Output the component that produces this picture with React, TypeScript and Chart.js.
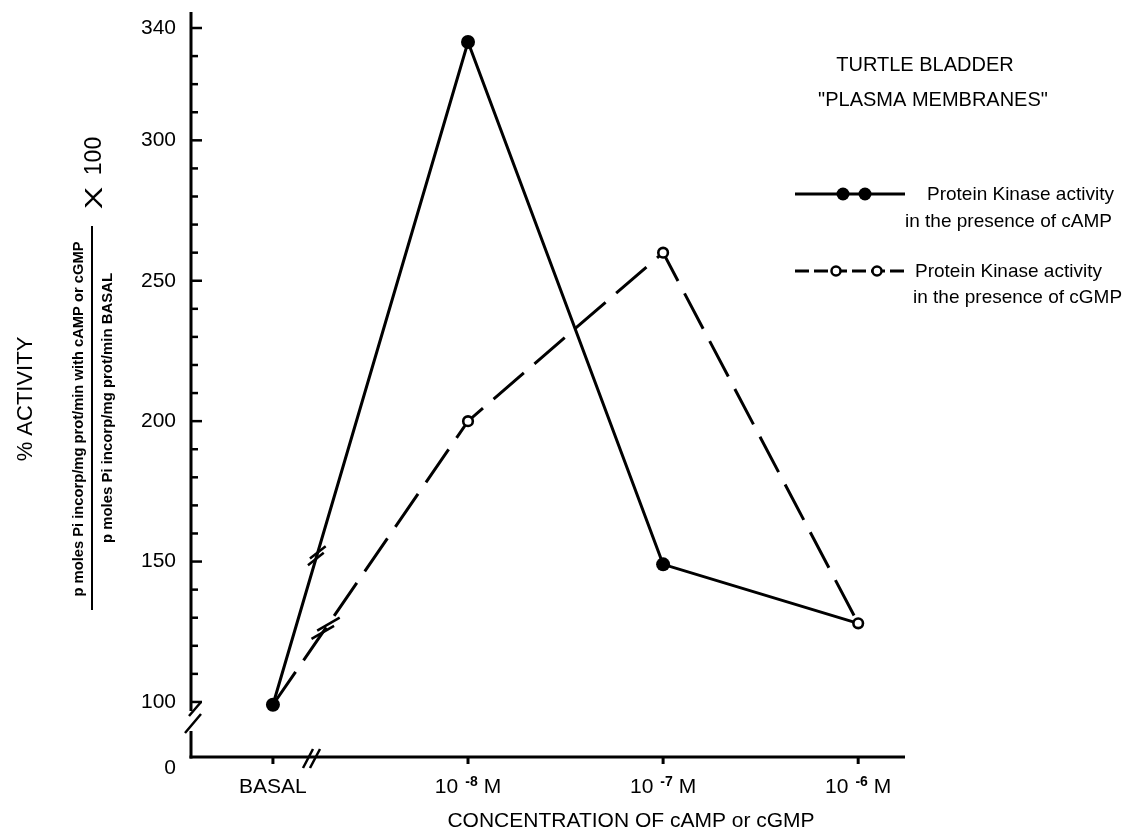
import React, { useEffect, useRef } from "react";
import { Chart, registerables } from "chart.js";

Chart.register(...registerables);

// ---------- data ----------
const categories = ["BASAL", "10 -8 M", "10 -7 M", "10 -6 M"];
const xTickBase = ["BASAL", "10", "10", "10"];
const xTickExp = ["", "-8", "-7", "-6"];
const xTickUnit = ["", "M", "M", "M"];
const campValues = [99, 335, 149, 128];
const cgmpValues = [99, 200, 260, 128];
const yMajorTicks = [100, 150, 200, 250, 300, 340];
const yMinorTicks = [110, 120, 130, 140, 160, 170, 180, 190, 210, 220, 230, 240, 260, 270, 280, 290, 310, 320, 330];
const yZeroLabel = "0";
const yRange = [80.4, 345.7];
const xRange = [-0.42, 3.24];

const xTitle = "CONCENTRATION OF cAMP or cGMP";
const yTitle = "% ACTIVITY";
const numerator = "p moles Pi incorp/mg prot/min with cAMP or cGMP";
const denominator = "p moles Pi incorp/mg prot/min BASAL";
const factorX = "X";
const factorNum = "100";
const titleLines = ["TURTLE BLADDER", "\"PLASMA MEMBRANES\""];
const legendLine1 = "Protein Kinase activity";
const legendCamp = "in the presence of cAMP";
const legendCgmp = "in the presence of cGMP";

const FONT = '"Liberation Sans", Arial, Helvetica, sans-serif';

function vText(ctx: CanvasRenderingContext2D, text: string, cx: number, cy: number, font: string, targetLen?: number, sx = 1) {
  ctx.save();
  ctx.font = font;
  ctx.translate(cx, cy);
  ctx.rotate(-Math.PI / 2);
  let scale = sx;
  if (targetLen) {
    const w = ctx.measureText(text).width;
    scale = targetLen / w;
  }
  ctx.scale(scale, 1);
  ctx.textAlign = "center";
  ctx.textBaseline = "middle";
  ctx.fillText(text, 0, 0);
  ctx.restore();
}

const paperPlugin = {
  id: "paperAxes",
  beforeDatasetsDraw(chart: any) {
    const { ctx, chartArea: ca, scales } = chart;
    const xs = scales.x;
    const ys = scales.y;
    ctx.save();
    ctx.strokeStyle = "#000";
    ctx.fillStyle = "#000";
    ctx.lineCap = "butt";

    const ax = ca.left;
    const y100 = ys.getPixelForValue(100);
    // y axis with break
    ctx.lineWidth = 3;
    ctx.beginPath();
    ctx.moveTo(ax, ca.top);
    ctx.lineTo(ax, y100 + 9);
    ctx.moveTo(ax, y100 + 29);
    ctx.lineTo(ax, ca.bottom + 1.5);
    ctx.stroke();
    ctx.lineWidth = 2.5;
    ctx.beginPath();
    ctx.moveTo(ax + 10, y100);
    ctx.lineTo(ax - 2, y100 + 14);
    ctx.moveTo(ax + 10, y100 + 12);
    ctx.lineTo(ax - 6, y100 + 31);
    ctx.stroke();

    // x axis
    ctx.lineWidth = 3;
    ctx.beginPath();
    ctx.moveTo(ax - 1.5, ca.bottom);
    ctx.lineTo(ca.right, ca.bottom);
    ctx.stroke();
    // x break
    const bx = xs.getPixelForValue(0.19);
    ctx.lineWidth = 2.5;
    ctx.beginPath();
    ctx.moveTo(bx - 7, ca.bottom + 11);
    ctx.lineTo(bx + 3, ca.bottom - 8);
    ctx.moveTo(bx, ca.bottom + 11);
    ctx.lineTo(bx + 10, ca.bottom - 8);
    ctx.stroke();

    // x ticks
    ctx.lineWidth = 3;
    categories.forEach((_, i) => {
      const px = xs.getPixelForValue(i);
      ctx.beginPath();
      ctx.moveTo(px, ca.bottom);
      ctx.lineTo(px, ca.bottom + 7);
      ctx.stroke();
    });

    // y ticks (inward)
    ctx.lineWidth = 2.5;
    yMajorTicks.forEach((v) => {
      const py = ys.getPixelForValue(v);
      ctx.beginPath();
      ctx.moveTo(ax, py);
      ctx.lineTo(ax + 11, py);
      ctx.stroke();
    });
    yMinorTicks.forEach((v) => {
      const py = ys.getPixelForValue(v);
      ctx.beginPath();
      ctx.moveTo(ax, py);
      ctx.lineTo(ax + 7, py);
      ctx.stroke();
    });

    // y labels
    ctx.font = `21px ${FONT}`;
    ctx.textAlign = "right";
    ctx.textBaseline = "middle";
    yMajorTicks.forEach((v) => {
      ctx.fillText(String(v), ax - 15, ys.getPixelForValue(v));
    });
    ctx.fillText(yZeroLabel, ax - 15, ca.bottom + 11);

    // x labels
    const ly = ca.bottom + 36;
    categories.forEach((_, i) => {
      const px = xs.getPixelForValue(i);
      ctx.textBaseline = "alphabetic";
      ctx.textAlign = "left";
      const baseFont = `21px ${FONT}`;
      const expFont = `bold 14px ${FONT}`;
      ctx.font = baseFont;
      const wb = ctx.measureText(xTickBase[i]).width;
      const wu = xTickUnit[i] ? ctx.measureText(xTickUnit[i]).width : 0;
      ctx.font = expFont;
      const we = xTickExp[i] ? ctx.measureText(xTickExp[i]).width : 0;
      const gap1 = xTickExp[i] ? 7 : 0;
      const gap2 = xTickUnit[i] ? 6 : 0;
      const total = wb + gap1 + we + gap2 + wu;
      let x0 = px - total / 2;
      ctx.font = baseFont;
      ctx.fillText(xTickBase[i], x0, ly);
      x0 += wb + gap1;
      if (xTickExp[i]) {
        ctx.font = expFont;
        ctx.fillText(xTickExp[i], x0, ly - 7);
        x0 += we + gap2;
      }
      if (xTickUnit[i]) {
        ctx.font = baseFont;
        ctx.fillText(xTickUnit[i], x0, ly);
      }
    });

    // x title
    ctx.font = `21px ${FONT}`;
    ctx.textAlign = "center";
    ctx.textBaseline = "alphabetic";
    ctx.fillText(xTitle, 631, 827);

    ctx.restore();
  },
  afterDatasetsDraw(chart: any) {
    const { ctx } = chart;
    ctx.save();
    ctx.strokeStyle = "#000";
    ctx.lineWidth = 2.5;
    const drawBreak = (dsIndex: number, t: number, half: number, sep: number, ang: number) => {
      const pts = chart.getDatasetMeta(dsIndex).data;
      const p0 = pts[0];
      const p1 = pts[1];
      const dx = p1.x - p0.x;
      const dy = p1.y - p0.y;
      const len = Math.hypot(dx, dy);
      const ux = dx / len;
      const uy = dy / len;
      const cx = p0.x + dx * t;
      const cy = p0.y + dy * t;
      const a = (ang * Math.PI) / 180;
      const sx = Math.cos(a);
      const sy = Math.sin(a);
      [-1, 1].forEach((s) => {
        const mx = cx + ux * sep * s;
        const my = cy + uy * sep * s;
        ctx.beginPath();
        ctx.moveTo(mx - sx * half, my - sy * half);
        ctx.lineTo(mx + sx * half, my + sy * half);
        ctx.stroke();
      });
    };
    drawBreak(0, 0.225, 10, 3.5, -38);
    drawBreak(1, 0.27, 13, 5, -30);
    ctx.restore();
  },
  afterDraw(chart: any) {
    const { ctx } = chart;
    ctx.save();
    ctx.fillStyle = "#000";
    ctx.strokeStyle = "#000";

    // title
    ctx.font = `20px ${FONT}`;
    ctx.textAlign = "center";
    ctx.textBaseline = "alphabetic";
    ctx.fillText(titleLines[0], 925, 71);
    ctx.fillText(titleLines[1], 933, 106);

    // legend cAMP
    ctx.lineWidth = 3;
    ctx.setLineDash([]);
    ctx.beginPath();
    ctx.moveTo(795, 194);
    ctx.lineTo(905, 194);
    ctx.stroke();
    [843, 865].forEach((x) => {
      ctx.beginPath();
      ctx.arc(x, 194, 6.5, 0, Math.PI * 2);
      ctx.fill();
    });
    ctx.font = `19px ${FONT}`;
    ctx.textAlign = "left";
    ctx.fillText(legendLine1, 927, 200);
    ctx.fillText(legendCamp, 905, 227);

    // legend cGMP
    ctx.setLineDash([14, 5]);
    ctx.beginPath();
    ctx.moveTo(795, 271);
    ctx.lineTo(908, 271);
    ctx.stroke();
    ctx.setLineDash([]);
    ctx.lineWidth = 2.5;
    [836, 877].forEach((x) => {
      ctx.beginPath();
      ctx.arc(x, 271, 4.5, 0, Math.PI * 2);
      ctx.fillStyle = "#fff";
      ctx.fill();
      ctx.stroke();
    });
    ctx.fillStyle = "#000";
    ctx.fillText(legendLine1, 915, 277);
    ctx.fillText(legendCgmp, 913, 303);

    // left labels
    vText(ctx, yTitle, 26, 399, `22px ${FONT}`);
    vText(ctx, numerator, 79, 419, `bold 14px ${FONT}`, 355);
    vText(ctx, denominator, 108, 408, `bold 14px ${FONT}`, 270);
    ctx.lineWidth = 2;
    ctx.beginPath();
    ctx.moveTo(92, 226);
    ctx.lineTo(92, 610);
    ctx.stroke();
    vText(ctx, factorNum, 95, 156, `23px ${FONT}`);
    ctx.save();
    ctx.font = `25px ${FONT}`;
    ctx.translate(95, 198);
    ctx.rotate(-Math.PI / 2);
    ctx.scale(1.35, 0.95);
    ctx.textAlign = "center";
    ctx.textBaseline = "middle";
    ctx.fillText(factorX, 0, 0);
    ctx.restore();

    ctx.restore();
  },
};

export default function App() {
  const canvasRef = useRef<HTMLCanvasElement | null>(null);

  useEffect(() => {
    if (!canvasRef.current) return;
    const chart = new Chart(canvasRef.current, {
      type: "line",
      data: {
        datasets: [
          {
            label: "Protein Kinase activity in the presence of cAMP",
            data: campValues.map((v, i) => ({ x: i, y: v })),
            borderColor: "#000",
            borderWidth: 3,
            pointRadius: (c: any) => (c.dataIndex === campValues.length - 1 ? 0 : 7),
            pointBackgroundColor: "#000",
            pointBorderWidth: 0,
            tension: 0,
            fill: false,
            order: 1,
          },
          {
            label: "Protein Kinase activity in the presence of cGMP",
            data: cgmpValues.map((v, i) => ({ x: i, y: v })),
            borderColor: "#000",
            borderWidth: 3,
            borderDash: [40, 14],
            pointRadius: 4.8,
            pointBorderWidth: 2.6,
            pointBorderColor: "#000",
            pointBackgroundColor: (c: any) => (c.dataIndex === 0 ? "#000" : "#fff"),
            tension: 0,
            fill: false,
            order: 0,
          },
        ],
      },
      options: {
        responsive: false,
        animation: false,
        devicePixelRatio: 1,
        layout: { padding: { left: 191, top: 12, right: 240, bottom: 77 } },
        plugins: {
          legend: { display: false },
          title: { display: false },
          tooltip: { enabled: false },
        },
        scales: {
          x: { type: "linear", min: xRange[0], max: xRange[1], display: false },
          y: { type: "linear", min: yRange[0], max: yRange[1], display: false },
        },
      },
      plugins: [paperPlugin],
    });
    return () => chart.destroy();
  }, []);

  return (
    <div style={{ position: "absolute", left: 0, top: 0, width: 1145, height: 834, background: "#fff" }}>
      <canvas ref={canvasRef} width={1145} height={834} style={{ width: 1145, height: 834, display: "block" }} />
    </div>
  );
}
